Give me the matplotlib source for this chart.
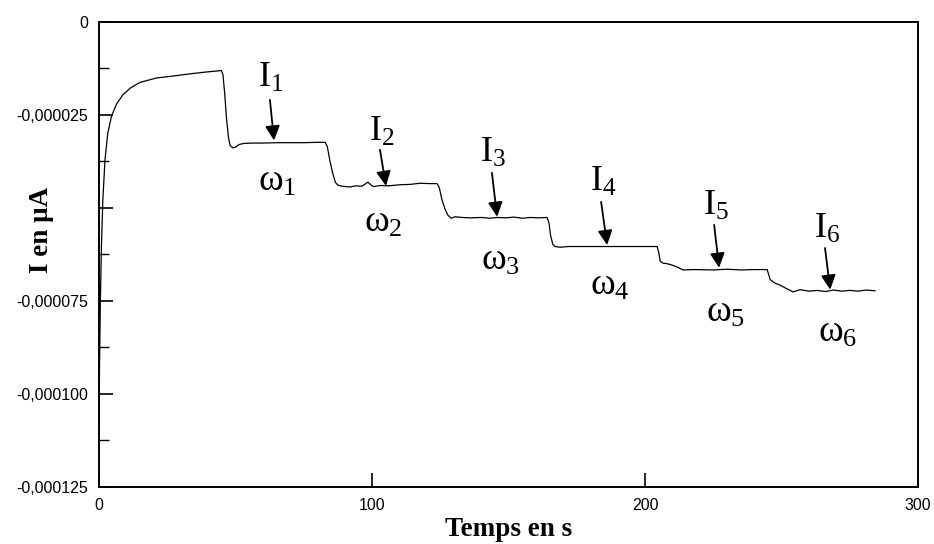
import matplotlib
matplotlib.use('Agg')
import matplotlib.pyplot as plt

plt.rcParams['mathtext.fontset'] = 'custom'
plt.rcParams['mathtext.rm'] = 'Liberation Serif'
plt.rcParams['mathtext.it'] = 'Liberation Serif'

# Temps (s) et courant (en 1e-6)
temps = [0, 0.2, 0.5, 0.9, 1.4, 2.2, 3.2, 4.6, 6.5, 8.8, 11.5, 15.0, 21.1, 27, 33.3, 38,
         43.6, 44.8, 45.4, 46.0, 46.7, 47.4, 48.0, 49.1, 50.2, 51.3, 53, 56, 60, 65, 70,
         75, 80, 82.8, 83.6, 84.6, 85.7, 86.6, 87.5, 89, 92, 94, 96.3, 97.5, 98.5, 99.5,
         100.5, 103, 106, 110.3, 114, 117.6, 121, 123.8, 124.6, 125.6, 126.8, 127.8, 129,
         130.4, 133, 136, 140, 143, 146, 149, 152, 155, 158, 161, 164.1, 164.8, 165.4,
         166.2, 167.0, 168.9, 172, 180, 190, 200, 204.4, 205.0, 205.5, 206.6, 208, 209.9,
         212, 213.9, 218, 225, 230, 235, 240, 244.7, 245.3, 245.8, 247.5, 249.5, 251.5,
         254.2, 256.8, 260, 263, 266, 269, 272, 275, 278, 281, 284.2]
courant = [-108, -92, -75, -60, -48, -37, -30, -25.3, -22, -19.6, -17.8, -16.3, -15.1, -14.6,
           -14.0, -13.6, -13.2, -13.1, -14.2, -19, -26, -31, -33.3, -33.9, -33.6, -33.0,
           -32.7, -32.6, -32.6, -32.5, -32.5, -32.5, -32.4, -32.4, -33.5, -37.5, -41, -43.2,
           -43.9, -44.2, -44.4, -44.1, -44.2, -43.6, -43.1, -43.8, -44.3, -44.0, -44.1,
           -43.8, -43.7, -43.4, -43.5, -43.5, -44.5, -47.8, -50.5, -52.0, -52.8, -52.4,
           -52.6, -52.7, -52.6, -52.8, -52.6, -52.7, -52.5, -52.8, -52.6, -52.7, -52.6,
           -54.0, -57.5, -59.8, -60.4, -60.6, -60.4, -60.4, -60.4, -60.4, -60.4, -62,
           -64.3, -64.9, -65.0, -65.4, -66.0, -66.7, -66.6, -66.7, -66.5, -66.7, -66.6,
           -66.6, -68, -69.3, -70.2, -70.8, -71.6, -72.6, -72.0, -72.4, -72.2, -72.5,
           -72.1, -72.4, -72.2, -72.4, -72.1, -72.3]
courant = [c * 1e-6 for c in courant]

yticks = [0, -25e-6, -50e-6, -75e-6, -100e-6, -125e-6]
ylabels = ['0', '-0,000025', '', '-0,000075', '-0,000100', '-0,000125']
xticks = [0, 100, 200, 300]

# annotations: texte I, texte omega, fleche (queue -> pointe)
i_labels = [r'$\mathrm{I}_{%d}$' % k for k in range(1, 7)]
w_labels = [r'$\omega_{%d}$' % k for k in range(1, 7)]
i_pos = [(63.0, -14.8), (103.7, -29.3), (144.3, -34.9), (184.6, -42.7), (226.0, -49.2), (266.7, -55.4)]
w_pos = [(65.2, -42.7), (104.0, -53.8), (146.9, -64.0), (187.2, -70.7), (229.3, -78.0), (270.3, -83.3)]
arrows = [((62.6, -21.0), (64.1, -31.9)), ((102.9, -34.4), (105.1, -44.1)),
          ((143.9, -40.6), (145.8, -52.4)), ((183.9, -48.4), (186.1, -60.0)),
          ((225.3, -54.6), (227.1, -66.1)), ((265.9, -60.8), (267.8, -72.0))]

fig = plt.figure(figsize=(9.34, 5.44), dpi=100)
ax = fig.add_axes([0.106, 0.105, 0.877, 0.855])
ax.plot(temps, courant, color='black', lw=0.9)

ax.set_xlim(0, 300)
ax.set_ylim(-125e-6, 0)
ax.set_xticks(xticks)
ax.set_xticklabels([str(v) for v in xticks], fontsize=11.5, family='Liberation Sans')
ax.set_yticks(yticks)
ax.set_yticklabels(ylabels, fontsize=11.5, family='Liberation Sans')
ax.set_yticks([-12.5e-6, -37.5e-6, -62.5e-6, -87.5e-6, -112.5e-6], minor=True)
ax.tick_params(axis='both', which='major', direction='in', length=10, width=1.2, pad=8)
ax.tick_params(axis='y', which='minor', direction='in', length=7, width=1.0)
for s in ax.spines.values():
    s.set_linewidth(1.4)

ax.set_xlabel('Temps en s', family='Liberation Serif', fontsize=19.5, fontweight='bold', labelpad=3)
ax.set_ylabel('I en µA', family='Liberation Serif', fontsize=19.5, fontweight='bold')
ax.yaxis.set_label_coords(-0.055, 0.553)

for (x, y), s in zip(i_pos, i_labels):
    ax.text(x, y * 1e-6, s, fontsize=26, ha='center', va='center')
for (x, y), s in zip(w_pos, w_labels):
    ax.text(x, y * 1e-6, s, fontsize=27, ha='center', va='center')
for (x0, y0), (x1, y1) in arrows:
    ax.annotate('', xy=(x1, y1 * 1e-6), xytext=(x0, y0 * 1e-6),
                arrowprops=dict(arrowstyle='-|>', color='black', lw=1.3,
                                mutation_scale=22, shrinkA=0, shrinkB=0))

fig.savefig('out.png', dpi=100)
